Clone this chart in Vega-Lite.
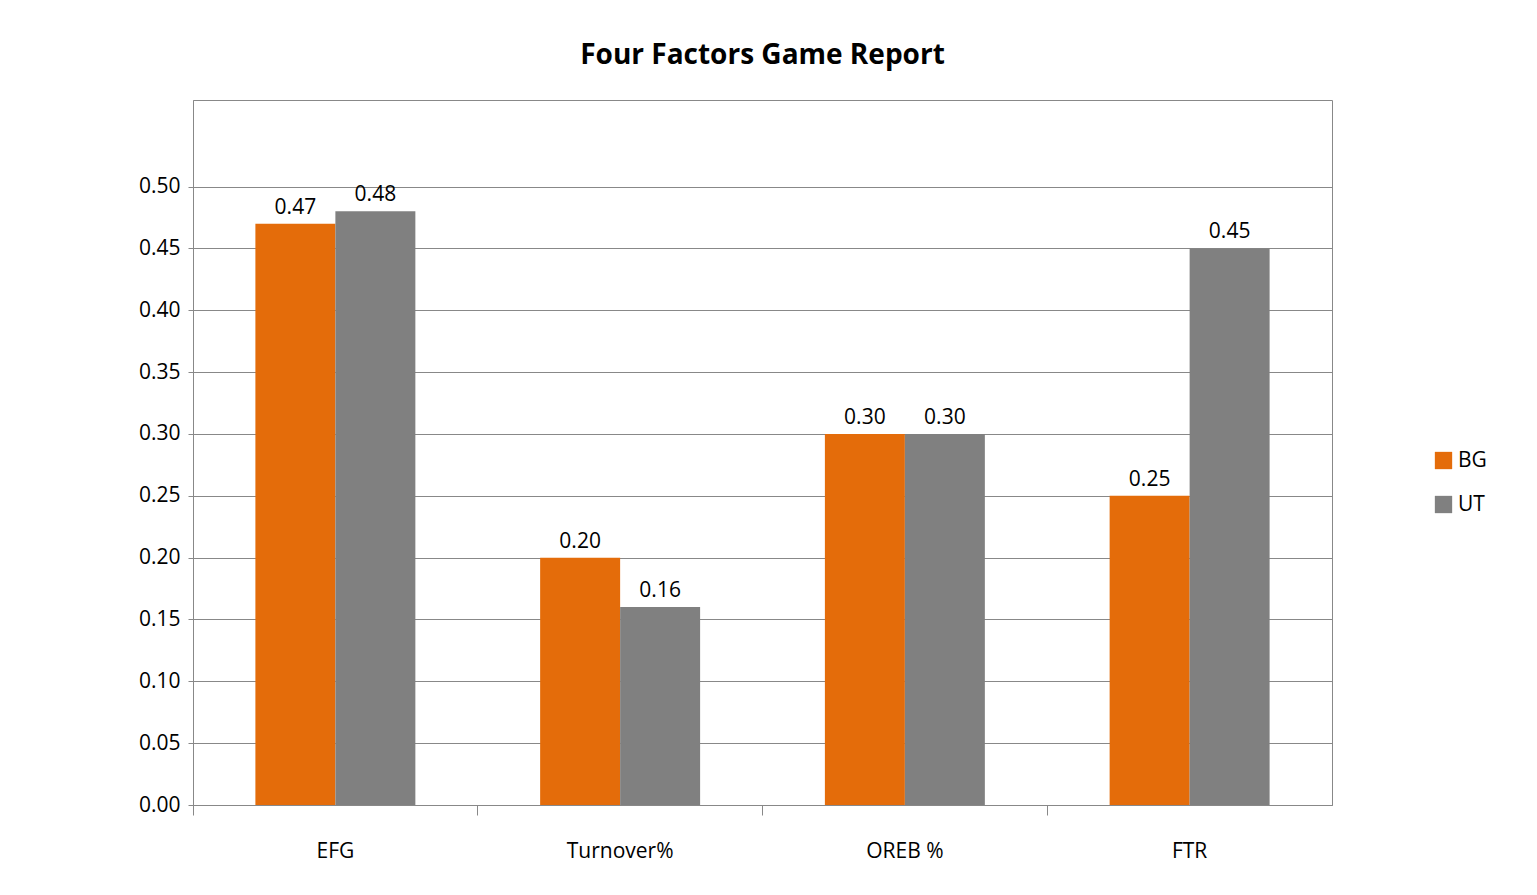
{
  "$schema": "https://vega.github.io/schema/vega-lite/v6.json",
  "width": 1139,
  "height": 705,
  "padding": {"left": 138, "top": 42, "right": 205, "bottom": 30},
  "autosize": {"type": "pad"},
  "background": "white",
  "title": {"text": "Four Factors Game Report", "font": "Open Sans", "fontSize": 28, "fontWeight": "bold", "color": "black", "offset": 30},
  "config": {
    "view": {"stroke": "#888"},
    "font": "Open Sans",
    "axis": {"labelFont": "Open Sans", "labelFontSize": 21, "labelColor": "black"}
  },
  "data": {"values": [
    {"factor": "EFG", "team": "BG", "value": 0.47},
    {"factor": "EFG", "team": "UT", "value": 0.48},
    {"factor": "Turnover%", "team": "BG", "value": 0.20},
    {"factor": "Turnover%", "team": "UT", "value": 0.16},
    {"factor": "OREB %", "team": "BG", "value": 0.30},
    {"factor": "OREB %", "team": "UT", "value": 0.30},
    {"factor": "FTR", "team": "BG", "value": 0.25},
    {"factor": "FTR", "team": "UT", "value": 0.45}
  ]},
  "encoding": {
    "x": {"field": "factor", "type": "nominal", "sort": null, "title": null,
      "scale": {"paddingInner": 0, "paddingOuter": 0},
      "axis": {"labelAngle": 0, "domainColor": "#888", "tickColor": "#888", "tickSize": 10, "labelPadding": 25, "bandPosition": 0}},
    "xOffset": {"field": "team", "type": "nominal", "scale": {"paddingInner": 0, "paddingOuter": 0.78}},
    "y": {"field": "value", "type": "quantitative", "title": null,
      "scale": {"domain": [0, 0.57], "nice": false},
      "axis": {"values": [0,0.05,0.1,0.15,0.2,0.25,0.3,0.35,0.4,0.45,0.5], "format": ".2f", "gridColor": "#888", "domainColor": "#888", "tickColor": "#888", "labelPadding": 8}}
  },
  "layer": [
    {
      "mark": {"type": "bar"},
      "encoding": {
        "color": {"field": "team", "type": "nominal", "title": null,
          "scale": {"domain": ["BG", "UT"], "range": ["#E46C0A", "#808080"]},
          "legend": {"orient": "none", "legendX": 1240, "legendY": 350, "symbolType": "square", "symbolSize": 300, "labelFontSize": 21, "labelColor": "black", "rowPadding": 22}}
      }
    },
    {
      "mark": {"type": "text", "dy": -16, "fontSize": 21, "color": "black"},
      "encoding": {"text": {"field": "value", "type": "quantitative", "format": ".2f"}}
    }
  ]
}
